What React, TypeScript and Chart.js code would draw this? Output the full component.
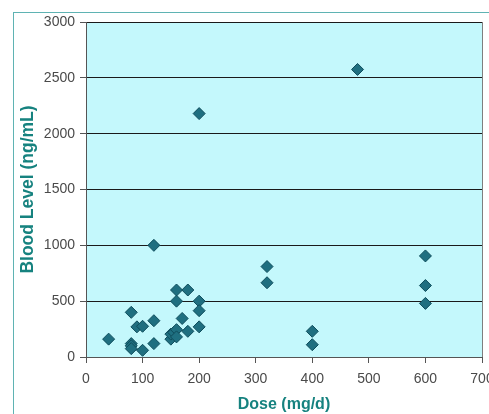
import { useEffect, useRef } from 'react';
import Chart from 'chart.js/auto';

// Dose (mg/d) and blood level (ng/mL)
const doses = [40, 80, 80, 80, 80, 90, 100, 100, 120, 120, 120, 150, 150, 155, 160, 160, 160, 160, 170, 180, 180, 200, 200, 200, 200, 320, 320, 400, 400, 480, 600, 600, 600];
const levels = [160, 400, 120, 100, 75, 270, 275, 60, 325, 120, 1000, 160, 205, 220, 245, 180, 600, 500, 345, 600, 230, 500, 415, 270, 2180, 810, 665, 230, 110, 2575, 905, 640, 480];
const yTicks = [0, 500, 1000, 1500, 2000, 2500, 3000];
const xTicks = [0, 100, 200, 300, 400, 500, 600, 700];

const plotFrame = {
    id: 'plotFrame',
    beforeDraw(chart: Chart) {
        const { ctx, chartArea } = chart;
        ctx.save();
        ctx.fillStyle = '#c4f8fc';
        ctx.fillRect(chartArea.left, chartArea.top, chartArea.right - chartArea.left, chartArea.bottom - chartArea.top);
        ctx.restore();
    },
    afterDatasetsDraw(chart: Chart) {
        const { ctx, chartArea } = chart;
        ctx.save();
        ctx.strokeStyle = '#7f7f7f';
        ctx.lineWidth = 1;
        ctx.beginPath();
        ctx.moveTo(chartArea.right + 0.5, chartArea.top);
        ctx.lineTo(chartArea.right + 0.5, chartArea.bottom);
        ctx.stroke();
        ctx.restore();
    },
};

const App = () => {
    const chartRef = useRef<HTMLCanvasElement>(null);

    useEffect(() => {
        if (!chartRef.current) return;
        const ctx = chartRef.current.getContext('2d');
        if (!ctx) return;

        const family = '"Liberation Sans", Arial, sans-serif';
        const tickFont = { family, size: 14 };

        const myChart = new Chart(ctx, {
            type: 'scatter',
            data: {
                datasets: [{
                    label: 'Blood Level',
                    data: doses.map((d, i) => ({ x: d, y: levels[i] })),
                    pointStyle: 'rectRot',
                    pointRadius: 6,
                    pointBackgroundColor: '#1f6f80',
                    pointBorderColor: '#0f4d5c',
                    pointBorderWidth: 1,
                }],
            },
            plugins: [plotFrame],
            options: {
                animation: false,
                responsive: false,
                layout: { padding: { top: 22, right: 6, left: 0, bottom: 0 } },
                plugins: {
                    legend: { display: false },
                    tooltip: { enabled: false },
                },
                scales: {
                    x: {
                        type: 'linear',
                        min: 0,
                        max: 700,
                        afterBuildTicks: (scale) => { scale.ticks = xTicks.map((v) => ({ value: v })); },
                        afterFit: (scale) => {
                            scale.height = 57;
                            scale.paddingLeft = 0;
                            scale.paddingRight = 0;
                        },
                        ticks: { color: '#4a4a4a', font: tickFont, padding: 8, maxRotation: 0, callback: (v) => String(v) },
                        grid: { drawOnChartArea: false, drawTicks: true, tickLength: 6, color: '#555555' },
                        border: { color: '#555555', width: 1 },
                        title: { display: true, text: 'Dose (mg/d)', color: '#16827f', font: { family, size: 16, weight: 'bold' }, padding: { top: 7, bottom: 0 } },
                    },
                    y: {
                        type: 'linear',
                        min: 0,
                        max: 3000,
                        afterBuildTicks: (scale) => { scale.ticks = yTicks.map((v) => ({ value: v })); },
                        afterFit: (scale) => {
                            scale.width = 86;
                            scale.paddingTop = 0;
                            scale.paddingBottom = 0;
                        },
                        ticks: { color: '#4a4a4a', font: tickFont, padding: 5, callback: (v) => String(v) },
                        grid: { color: '#1a1a1a', tickLength: 6, tickColor: '#555555' },
                        border: { color: '#555555', width: 1 },
                        title: { display: true, text: 'Blood Level (ng/mL)', color: '#16827f', font: { family, size: 17.5, weight: 'bold' }, padding: { top: 18, bottom: 4 } },
                    },
                },
            },
        });
        return () => {
            myChart.destroy();
        };
    }, []);

    return (
        <div style={{ position: 'fixed', left: 0, top: 0, width: 489, height: 414, overflow: 'hidden', background: '#ffffff' }}>
            {/* chart frame, runs off the right and bottom of the picture */}
            <div style={{ position: 'absolute', left: 13, top: 12, width: 490, height: 420, borderLeft: '1px solid #5fb3b3', borderTop: '1px solid #5fb3b3' }} />
            <canvas ref={chartRef} width={489} height={414} style={{ position: 'absolute', left: 0, top: 0 }} />
        </div>
    );
};

export default App;
